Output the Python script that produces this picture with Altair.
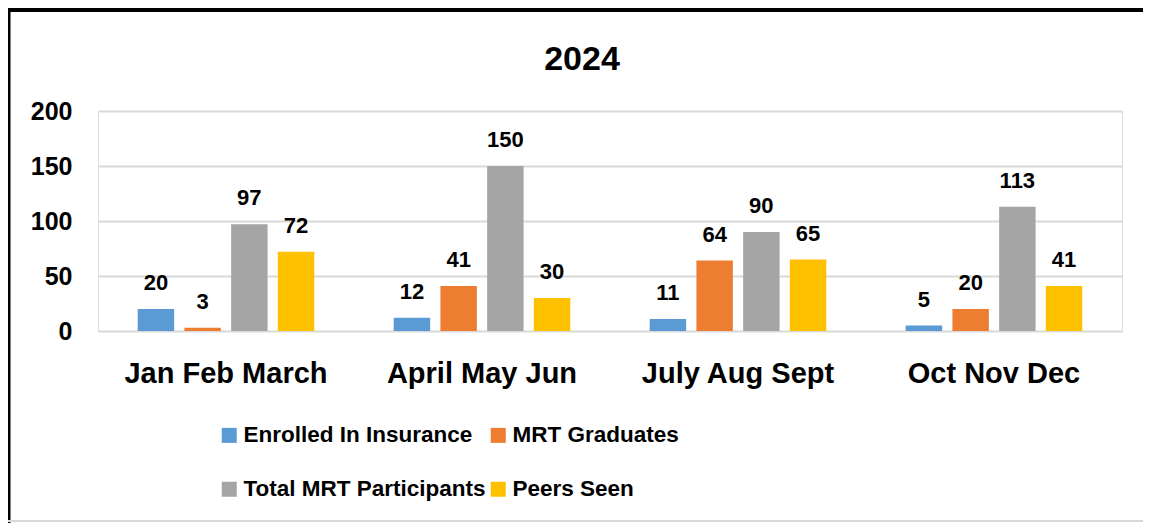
import altair as alt
import pandas as pd

quarters = ["Jan Feb March", "April May Jun", "July Aug Sept", "Oct Nov Dec"]
series = ["Enrolled In Insurance", "MRT Graduates", "Total MRT Participants", "Peers Seen"]
colors = ["#5B9BD5", "#ED7D31", "#A5A5A5", "#FFC000"]

enrolled = [20, 12, 11, 5]
graduates = [3, 41, 64, 20]
participants = [97, 150, 90, 113]
peers = [72, 30, 65, 41]

values = [enrolled, graduates, participants, peers]
rows = []
for s, vals in zip(series, values):
    for q, v in zip(quarters, vals):
        rows.append({"Quarter": q, "Series": s, "Value": v})
df = pd.DataFrame(rows)

FONT = "Liberation Sans"

x = alt.X("Quarter:N", sort=quarters,
          scale=alt.Scale(paddingInner=0, paddingOuter=0),
          axis=alt.Axis(title=None, labelAngle=0, labelFontSize=29, labelFontWeight="bold",
                        labelColor="#000000", labelFont=FONT, domain=False, ticks=False,
                        labelPadding=51, labelBaseline="alphabetic", labelLimit=500))
xo = alt.XOffset("Series:N", sort=series,
                 scale=alt.Scale(paddingInner=0.22, paddingOuter=0.85))
y = alt.Y("Value:Q", scale=alt.Scale(domain=[0, 200], nice=False),
          axis=alt.Axis(title=None, values=[0, 50, 100, 150, 200], labelFontSize=25,
                        labelFontWeight="bold", labelColor="#000000", labelFont=FONT,
                        domain=False, ticks=False, labelPadding=26,
                        grid=True, gridColor="#D9D9D9", gridWidth=1.8))

bars = alt.Chart(df).mark_bar().encode(
    x=x, xOffset=xo, y=y,
    color=alt.Color("Series:N", sort=series,
                    scale=alt.Scale(domain=series, range=colors),
                    legend=alt.Legend(title=None, orient="none", legendX=120, legendY=313,
                                      columns=2, direction="horizontal",
                                      symbolType="square", symbolSize=225, symbolStrokeWidth=0,
                                      labelFontSize=22.5, labelFontWeight="bold", labelFont=FONT,
                                      labelColor="#000000", labelOffset=3, labelLimit=0,
                                      columnPadding=1, rowPadding=31)),
)

labels = alt.Chart(df).mark_text(baseline="alphabetic", dy=-19, fontSize=22,
                                 fontWeight="bold", font=FONT, color="#000000").encode(
    x=alt.X("Quarter:N", sort=quarters), xOffset=alt.XOffset("Series:N", sort=series),
    y="Value:Q", text="Value:Q")

frame_df = pd.DataFrame({"k": [0]})
left_border = alt.Chart(frame_df).mark_rule(color="#000000", strokeWidth=3).encode(
    x=alt.value(-89), y=alt.value(-103), y2=alt.value(420))
top_border = alt.Chart(frame_df).mark_rule(color="#000000", strokeWidth=4).encode(
    x=alt.value(-90), x2=alt.value(1060), y=alt.value(-101))
bottom_border = alt.Chart(frame_df).mark_rule(color="#D9D9D9", strokeWidth=2).encode(
    x=alt.value(-90), x2=alt.value(1060), y=alt.value(410))

chart = alt.layer(bars, labels, left_border, top_border, bottom_border).properties(
    width=1024, height=220,
    title=alt.TitleParams(text="2024", fontSize=34, fontWeight="bold", font=FONT,
                          color="#000000", anchor="middle", dx=-28, offset=-97,
                          baseline="alphabetic"),
    autosize=alt.AutoSizeParams(type="none"),
    padding={"left": 90, "top": 103, "right": 21, "bottom": 192},
).configure_view(stroke=None).configure(background="#FFFFFF")

chart.save("out.html", embed_options={"renderer": "svg", "actions": False})
